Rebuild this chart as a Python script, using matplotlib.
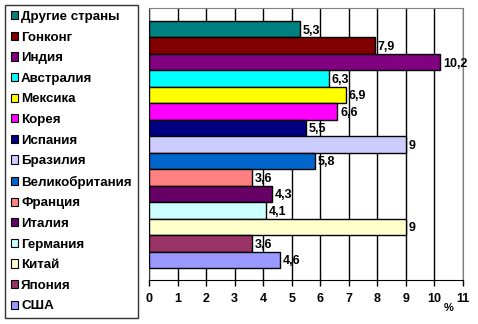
import matplotlib
matplotlib.use("Agg")
import matplotlib.pyplot as plt
from matplotlib.patches import Patch

plt.rcParams['font.family'] = ['Liberation Sans', 'DejaVu Sans']

countries = ["Другие страны", "Гонконг", "Индия", "Австралия", "Мексика", "Корея",
             "Испания", "Бразилия", "Великобритания", "Франция", "Италия",
             "Германия", "Китай", "Япония", "США"]
values = [5.3, 7.9, 10.2, 6.3, 6.9, 6.6, 5.5, 9, 5.8, 3.6, 4.3, 4.1, 9, 3.6, 4.6]
colors = ["#008080", "#800000", "#800080", "#00FFFF", "#FFFF00", "#FF00FF",
          "#000080", "#CCCCFF", "#0066CC", "#FF8080", "#660066", "#CCFFFF",
          "#FFFFCC", "#993366", "#9999FF"]
xticks = list(range(0, 12))

fig = plt.figure(figsize=(4.78, 3.24), dpi=100)
ax = fig.add_axes([149 / 478, 44 / 324, 314 / 478, 272 / 324])

ypos = list(range(len(values)))
ax.barh(ypos, values, height=1.0, color=colors, edgecolor="black",
        linewidth=1.0, zorder=3)
for y, v in zip(ypos, values):
    txt = ("%g" % v).replace(".", ",")
    ax.annotate(txt, (v, y), xytext=(2, -1), textcoords="offset points",
                ha="left", va="center", fontsize=9, fontweight="bold", zorder=4)

ax.set_xlim(0, 11)
ax.set_ylim(15.23, -1.29)
ax.set_xticks(xticks)
ax.set_xticklabels([str(t) for t in xticks], fontsize=9, fontweight="bold")
ax.set_yticks([])
ax.xaxis.grid(True, color="black", linewidth=1.0, zorder=0)
ax.set_axisbelow(True)
ax.tick_params(axis="x", length=4, width=1, direction="out", pad=5)
for side in ("top", "right"):
    ax.spines[side].set_color("#808080")
ax.spines["left"].set_color("#404040")
ax.spines["bottom"].set_color("black")
ax.text(10.5, -0.085, "%", transform=ax.get_xaxis_transform(), fontsize=8,
        fontweight="bold", ha="center", va="top")

handles = [Patch(facecolor=c, edgecolor="black", linewidth=0.8) for c in colors]
leg = fig.legend(handles, countries, loc="upper left",
                 bbox_to_anchor=(5 / 478, 1 - 5 / 324), frameon=True,
                 fancybox=False, edgecolor="black", handlelength=0.55,
                 handleheight=0.55, handletextpad=0.2, labelspacing=0.645,
                 borderpad=0.45, borderaxespad=0,
                 prop={"size": 9.6, "weight": "bold"})
leg.get_frame().set_linewidth(1.0)

fig.savefig("out.png", dpi=100)
